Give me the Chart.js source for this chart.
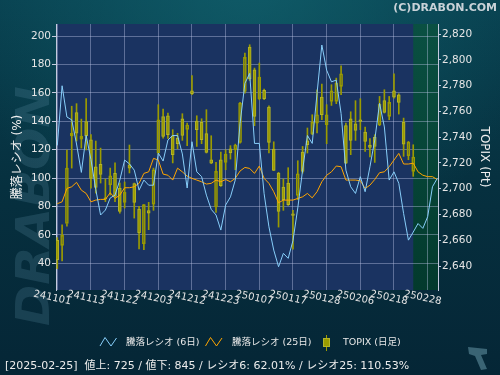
<!DOCTYPE html>
<html><head><meta charset="utf-8">
<script src="https://cdn.jsdelivr.net/npm/chart.js@4.4.1/dist/chart.umd.min.js"></script>
<style>html,body{margin:0;padding:0;background:#06303f;overflow:hidden}#wrap{width:500px;height:375px;position:relative}canvas{display:block}</style>
</head><body>
<div id="wrap"><canvas id="c" width="500" height="375"></canvas></div>
<script>
const FONT = "'DejaVu Sans','Noto Sans CJK JP',sans-serif";

// x tick labels (every 7 trading days)
const tickLabels = ['241101','241113','241122','241203','241212','241223','250107','250117','250128','250206','250218','250228'];

// 騰落レシオ (6日)
const ratio6 = [123,165,143,141,124,104,130,113,92,74,
  77.5,86,88,98.6,112.7,110,105.6,91.5,98.6,95,
  95,117.6,112,126.8,130,130,117,93,125.6,104.4,
  101,88,78,74,63.4,81,86.8,98.6,138.5,166.7,
  173.7,124.4,124.4,89,65.7,49.3,37.6,47,43.5,56,
  79,105.6,130,124.4,159.6,193.7,176,167.8,169,145.5,
  105.6,93.9,89.2,101,90.4,108,126.8,152.6,136,98.6,
  104.4,96.3,75,56.3,62,68,64.6,72.8,93.9,99.8];

// 騰落レシオ (25日)
const ratio25 = [82,83.3,92.7,93.9,97,91.5,89.2,83.3,84.5,85,
  85,89.7,85.7,88,93.2,93.2,93.9,96.3,103.3,104.4,
  113.9,112.7,102.8,102,98.6,107,104.4,101.4,99.8,98.6,
  97.4,95.8,96.3,98.6,97.4,99,97.4,99.8,105,107.5,
  106.8,103.3,108.5,99.8,96.3,90.4,82.6,84.5,84.5,84.5,
  85.7,86.8,89.2,86.1,90.4,97.4,102,104.4,108.5,108,
  98.6,98.6,98.6,98.1,92.7,95,99,103.8,104.4,108,
  112.7,117.4,109.9,109.9,110.5,104.4,102,101,101,99];

// TOPIX daily OHLC
const topixOpen = [2660,2656,2673,2741,2759,2738.5,2752,2738,2717,2719,
  2693,2703,2712,2700.5,2689.4,2718.6,2704,2684.2,2657.3,2683,
  2688,2727.7,2756,2756.6,2741,2739,2754.3,2746,2776,2752.5,
  2751.5,2742.7,2722.5,2685.8,2722.5,2720.4,2731,2730.2,2735.9,2775.5,
  2809.9,2792.3,2769.8,2776.3,2763.3,2730.8,2712.1,2701.3,2704.4,2680.6,
  2694.8,2728.4,2737.2,2742.7,2750.9,2771.1,2749.6,2767.7,2767.7,2779.4,
  2748.9,2754.3,2750.4,2753.5,2743.9,2733.9,2739.8,2749.4,2768.3,2756.1,
  2776,2772.9,2751.7,2725.6,2713.4];
const topixHigh = [2662,2672,2730,2764,2766,2754,2770,2742,2737,2731.5,
  2707.5,2716,2720,2704.4,2705.2,2733.9,2704.4,2686.3,2687.6,2689.4,
  2716,2765.2,2761.8,2758.7,2745.8,2743,2758.2,2750.9,2787.7,2756.6,
  2754.3,2761.3,2741.1,2720.4,2728.4,2730.2,2733.4,2734.6,2767,2805.2,
  2811.7,2793.6,2797.5,2777.3,2764.4,2736.4,2712.7,2707.5,2716.3,2683.2,
  2721.7,2732.8,2747.1,2757.4,2776.8,2781.2,2765.2,2780.7,2785.8,2795.4,
  2750.9,2759.7,2768.3,2769.8,2747.8,2738.8,2741.9,2771.6,2776.8,2771.6,
  2789.2,2773.7,2754.8,2736.7,2734.1];
const topixLow = [2638,2644,2671,2716,2737,2731.5,2730,2700.5,2696.6,2704.4,
  2690,2695,2690,2681,2685,2712.2,2677.2,2653.2,2652.7,2668.2,
  2683.2,2726.4,2739.3,2739,2720,2731,2737.5,2733.4,2772.9,2732.8,
  2734.9,2727.7,2719.4,2681.6,2701.8,2714.7,2723,2714.7,2735.4,2774.2,
  2784,2748.9,2769,2769,2727.7,2714,2670.2,2683.2,2687,2653,
  2691.5,2712.1,2727.7,2741.9,2743.2,2753.5,2734.9,2764.6,2766,2772.9,
  2719.4,2726.4,2737.5,2745.8,2729,2724.6,2720.4,2748.9,2758.7,2753.5,
  2770.3,2757.9,2725.1,2722.5,2709.6];
const topixClose = [2645,2664,2716,2743,2743,2740.6,2741,2708,2701,2711,
  2692,2710,2694,2682.4,2697.1,2716,2689.4,2665.6,2687.6,2681,
  2714.7,2753.5,2740.6,2741.9,2726.5,2735,2741.4,2749.4,2773.7,2745.8,
  2738,2728.2,2719.9,2713.4,2702.3,2726.9,2727.7,2733.9,2766.5,2801.9,
  2785.1,2756.1,2786.6,2769.8,2735.9,2714.2,2682.4,2691.5,2687.6,2679.3,
  2711.6,2713.4,2734.1,2751.7,2757.4,2757.4,2757.4,2776,2782,2789.2,
  2719.9,2737.5,2745.2,2752.2,2736.7,2732.1,2732.8,2765.7,2759.2,2767,
  2771.1,2767,2734.6,2736.2,2724.6];

const legendNames = ['騰落レシオ (6日)', '騰落レシオ (25日)', 'TOPIX (日足)'];
const statusText = '[2025-02-25]  値上: 725 / 値下: 845 / レシオ6: 62.01% / レシオ25: 110.53%';
const copyright = '(C)DRABON.COM';

const lastCandle = topixClose.length - 1;
const GRID = 'rgba(185,195,228,0.42)';
const AXIS = '#c4cade';
const OLIVE = '#9b9b00';
const OLIVE_L = '#b4b42a';
const BLUE = '#87cefa';
const ORANGE = '#ffa500';

const pts = a => a.map((v, i) => ({x: i, y: v}));
const isUp = topixOpen.map((o, i) => topixClose[i] >= o);

const bgPlugin = {
  id: 'bg',
  beforeDraw(chart) {
    const ctx = chart.ctx, W = chart.width, H = chart.height;
    ctx.save();
    const g = ctx.createLinearGradient(0, 0, 0, H);
    g.addColorStop(0, '#08404f');
    g.addColorStop(0.5, '#06303f');
    g.addColorStop(1, '#052636');
    ctx.fillStyle = g; ctx.fillRect(0, 0, W, H);
    const r = ctx.createRadialGradient(250, -30, 0, 250, -30, 300);
    r.addColorStop(0, 'rgba(18,100,112,0.75)');
    r.addColorStop(1, 'rgba(18,100,112,0)');
    ctx.fillStyle = r; ctx.fillRect(0, 0, W, H);
    // watermark
    ctx.save();
    ctx.translate(49, 326);
    ctx.rotate(-Math.PI / 2);
    ctx.font = "italic bold 46px 'DejaVu Sans'";
    const w = ctx.measureText('DRABON').width;
    ctx.scale(240 / w, 1);
    ctx.fillStyle = 'rgba(100,150,172,0.22)';
    ctx.fillText('DRABON', 0, 0);
    ctx.restore();
    // plot area
    const a = chart.chartArea;
    ctx.fillStyle = '#1a3361';
    ctx.fillRect(a.left, a.top, a.right - a.left, a.bottom - a.top);
    const gx = chart.scales.x.getPixelForValue(lastCandle);
    const gg = ctx.createLinearGradient(0, a.top, 0, a.bottom);
    gg.addColorStop(0, '#0a5042');
    gg.addColorStop(1, '#033a2d');
    ctx.fillStyle = gg;
    ctx.fillRect(gx, a.top, a.right - gx, a.bottom - a.top);
    ctx.restore();
  },
  afterDraw(chart) {
    const ctx = chart.ctx;
    const xs = chart.scales.x;
    ctx.save();
    // x tick labels
    ctx.fillStyle = '#e4e4e4';
    ctx.font = '10px ' + FONT;
    ctx.textAlign = 'center';
    ctx.textBaseline = 'top';
    xs.ticks.forEach(t => {
      const lab = tickLabels[Math.round(t.value / 7)];
      if (!lab) return;
      const px = xs.getPixelForValue(t.value);
      ctx.save();
      ctx.translate(px - 4, 293);
      ctx.rotate(12 * Math.PI / 180);
      ctx.fillText(lab, 0, 0);
      ctx.restore();
    });
    // legend
    const ly = 342.5;
    ctx.lineWidth = 1;
    const zig = (x0, col) => {
      ctx.strokeStyle = col;
      ctx.beginPath();
      ctx.moveTo(x0, ly + 3.5); ctx.lineTo(x0 + 5, ly - 5); ctx.lineTo(x0 + 11, ly + 3.5); ctx.lineTo(x0 + 16.5, ly - 4.5);
      ctx.stroke();
    };
    zig(100, BLUE);
    zig(205.5, ORANGE);
    ctx.fillStyle = OLIVE;
    ctx.fillRect(326, ly - 7.5, 1, 16);
    ctx.fillStyle = OLIVE_L;
    ctx.fillRect(323, ly - 4.5, 7, 9);
    ctx.fillStyle = OLIVE;
    ctx.fillRect(324, ly - 3.5, 5, 7);
    ctx.fillStyle = '#e8e8e8';
    ctx.font = '9.5px ' + FONT;
    ctx.textAlign = 'left';
    ctx.textBaseline = 'middle';
    ctx.fillText(legendNames[0], 126, ly);
    ctx.fillText(legendNames[1], 232, ly);
    ctx.fillText(legendNames[2], 343, ly);
    // status line
    ctx.font = '11px ' + FONT;
    ctx.fillStyle = '#ececec';
    ctx.fillText(statusText, 5, 366.5);
    // copyright
    ctx.font = "bold 11px 'DejaVu Sans'";
    ctx.textAlign = 'right';
    ctx.fillStyle = '#c9d2d8';
    ctx.fillText(copyright, 497, 8);
    // logo mark
    ctx.fillStyle = '#3a6474';
    ctx.beginPath();
    ctx.moveTo(468, 347); ctx.lineTo(487, 349); ctx.lineTo(487, 354); ctx.lineTo(481, 355);
    ctx.lineTo(487, 369); ctx.lineTo(481, 370); ctx.lineTo(475, 356); ctx.lineTo(469, 354);
    ctx.closePath(); ctx.fill();
    ctx.restore();
  }
};

new Chart(document.getElementById('c'), {
  type: 'bar',
  data: {
    datasets: [
      {type: 'line', label: legendNames[0], data: pts(ratio6), yAxisID: 'y', borderColor: BLUE, borderWidth: 1, pointRadius: 0, tension: 0, order: 0},
      {type: 'line', label: legendNames[1], data: pts(ratio25), yAxisID: 'y', borderColor: ORANGE, borderWidth: 1, pointRadius: 0, tension: 0, order: 0},
      {type: 'bar', label: 'wick-high', data: topixHigh.map((h, i) => ({x: i, y: [Math.max(topixOpen[i], topixClose[i]), h]})), yAxisID: 'y1', barThickness: 1, grouped: false, backgroundColor: OLIVE, borderWidth: 0, order: 3},
      {type: 'bar', label: 'wick-low', data: topixLow.map((l, i) => ({x: i, y: [l, Math.min(topixOpen[i], topixClose[i])]})), yAxisID: 'y1', barThickness: 1, grouped: false, backgroundColor: OLIVE, borderWidth: 0, order: 3},
      {type: 'bar', label: legendNames[2], data: topixOpen.map((o, i) => ({x: i, y: [o, topixClose[i]]})), yAxisID: 'y1', barThickness: 3, grouped: false, minBarLength: 1,
        backgroundColor: isUp.map(u => u ? 'rgba(0,0,0,0)' : OLIVE), borderColor: isUp.map(u => u ? OLIVE : OLIVE_L), borderWidth: 1, borderSkipped: false, order: 2}
    ]
  },
  options: {
    responsive: false,
    animation: false,
    devicePixelRatio: 1,
    events: [],
    layout: {padding: {top: 24, left: 0, right: 0, bottom: 0}},
    plugins: {legend: {display: false}, tooltip: {enabled: false}, title: {display: false}},
    scales: {
      x: {
        type: 'linear', min: -0.27, max: 79.15, offset: false,
        afterFit: s => { s.height = 85; },
        ticks: {display: false, stepSize: 7, includeBounds: false, autoSkip: false, maxTicksLimit: 30},
        grid: {color: GRID, drawTicks: false, offset: false},
        border: {display: false}
      },
      y: {
        type: 'linear', position: 'left', min: 21.2, max: 208.5,
        afterFit: s => { s.width = 56; },
        ticks: {stepSize: 20, includeBounds: false, color: '#e6e6e6', font: {family: FONT, size: 10.5}, padding: 1},
        grid: {color: GRID, tickColor: AXIS, tickLength: 4},
        border: {color: AXIS},
        title: {display: true, text: '騰落レシオ (%)', color: '#f0f0f0', font: {family: FONT, size: 12}, padding: {top: 10.8, bottom: 0}}
      },
      y1: {
        type: 'linear', position: 'right', min: 2621.4, max: 2827.8,
        afterFit: s => { s.width = 62; },
        ticks: {stepSize: 20, includeBounds: false, color: '#e6e6e6', font: {family: FONT, size: 10.5}, padding: 1,
          callback: v => v.toLocaleString('en-US')},
        grid: {drawOnChartArea: false, tickColor: AXIS, tickLength: 3},
        border: {color: AXIS},
        title: {display: true, text: 'TOPIX (Pt)', color: '#f0f0f0', font: {family: FONT, size: 12}, padding: {top: 8.8, bottom: 0}}
      }
    }
  },
  plugins: [bgPlugin]
});
</script>
</body></html>
